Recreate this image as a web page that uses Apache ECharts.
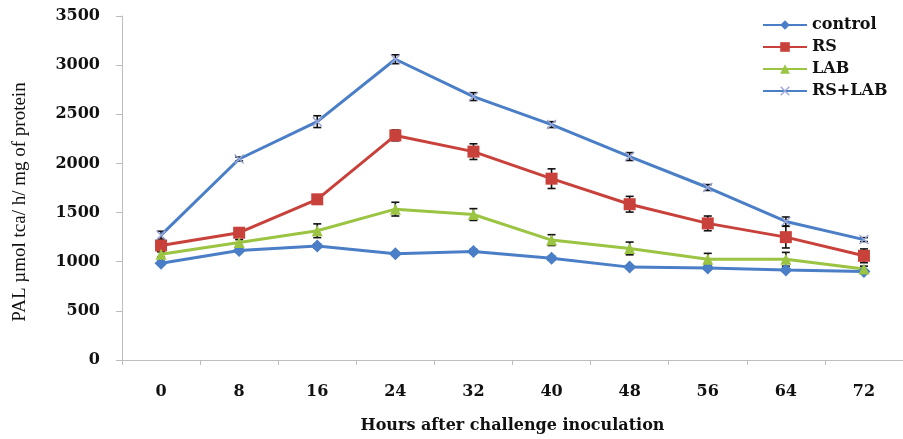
<!DOCTYPE html>
<html>
<head>
<meta charset="utf-8">
<script src="https://cdn.jsdelivr.net/npm/echarts@6/dist/echarts.min.js"></script>
<style>
  html, body { margin: 0; padding: 0; background: #fff; }
  #chart { width: 903px; height: 439px; }
</style>
</head>
<body>
<div id="chart"></div>
<script>
// hours after challenge inoculation
const hours = ['0', '8', '16', '24', '32', '40', '48', '56', '64', '72'];
const yTicks = [0, 500, 1000, 1500, 2000, 2500, 3000, 3500];

// PAL activity
const control = [985, 1115, 1160, 1080, 1105, 1035, 945, 935, 915, 900];
const rs = [1165, 1295, 1635, 2285, 2120, 1845, 1585, 1390, 1250, 1060];
const lab = [1075, 1195, 1315, 1535, 1480, 1220, 1135, 1025, 1025, 925];
const rsLab = [1270, 2045, 2425, 3060, 2680, 2395, 2070, 1755, 1410, 1225];

// error bar half-widths
const controlErr = [20, 20, 20, 15, 20, 20, 15, 15, 15, 15];
const rsErr = [40, 40, 45, 55, 80, 100, 80, 75, 110, 70];
const labErr = [25, 30, 70, 70, 60, 55, 65, 60, 70, 30];
const rsLabErr = [40, 20, 60, 45, 40, 30, 40, 30, 45, 20];

const font = 'DejaVu Serif';
const blue = '#4a7ec6';
const red = '#c9413b';
const green = '#9bc443';
const crossPath = 'path://M0,1L1,0L5,4L9,0L10,1L6,5L10,9L9,10L5,6L1,10L0,9L4,5Z';

function lineSeries(name, data, color, symbol, size, symColor) {
  return {
    name: name,
    type: 'line',
    data: data,
    symbol: symbol,
    symbolSize: size,
    lineStyle: { color: color, width: 3 },
    itemStyle: { color: symColor || color },
    z: 3
  };
}

function errorSeries(vals, errs) {
  return {
    type: 'custom',
    z: 2,
    silent: true,
    data: vals.map((v, i) => [i, v - errs[i], v + errs[i]]),
    renderItem: function (params, api) {
      const lo = api.coord([api.value(0), api.value(1)]);
      const hi = api.coord([api.value(0), api.value(2)]);
      const w = 4;
      const style = { stroke: '#111', lineWidth: 1.6 };
      return {
        type: 'group',
        children: [
          { type: 'line', shape: { x1: lo[0], y1: lo[1], x2: hi[0], y2: hi[1] }, style: style },
          { type: 'line', shape: { x1: lo[0] - w, y1: lo[1], x2: lo[0] + w, y2: lo[1] }, style: style },
          { type: 'line', shape: { x1: hi[0] - w, y1: hi[1], x2: hi[0] + w, y2: hi[1] }, style: style }
        ]
      };
    }
  };
}

const chart = echarts.init(document.getElementById('chart'));
chart.setOption({
  animation: false,
  grid: { left: 122, right: 0, top: 16, bottom: 73 },
  legend: {
    data: ['control', 'RS', 'LAB', 'RS+LAB'],
    orient: 'vertical',
    left: 757,
    top: 12,
    itemWidth: 44,
    itemHeight: 12,
    itemGap: 6,
    textStyle: { fontFamily: font, fontWeight: 'bold', fontSize: 16, color: '#111' }
  },
  xAxis: {
    type: 'category',
    data: hours,
    boundaryGap: true,
    name: 'Hours after challenge inoculation',
    nameLocation: 'middle',
    nameGap: 58,
    nameTextStyle: { fontFamily: font, fontWeight: 'bold', fontSize: 16, color: '#111' },
    axisLine: { lineStyle: { color: '#bdbdbd', width: 1 } },
    axisTick: { show: true, length: 5, lineStyle: { color: '#bdbdbd' } },
    axisLabel: { fontFamily: font, fontWeight: 'bold', fontSize: 16, color: '#111', margin: 24 },
    splitLine: { show: false }
  },
  yAxis: {
    type: 'value',
    min: yTicks[0],
    max: yTicks[yTicks.length - 1],
    interval: 500,
    name: 'PAL µmol tca/ h/ mg of protein',
    nameLocation: 'middle',
    nameGap: 92,
    nameTextStyle: { fontFamily: 'Liberation Serif', fontSize: 19, color: '#111', padding: [0, 28, 0, 0] },
    axisLine: { show: true, lineStyle: { color: '#bdbdbd', width: 1 } },
    axisTick: { show: true, length: 6, lineStyle: { color: '#bdbdbd' } },
    axisLabel: {
      fontFamily: font, fontWeight: 'bold', fontSize: 16, color: '#111', margin: 22,
      formatter: v => String(v)
    },
    splitLine: { show: false }
  },
  series: [
    lineSeries('control', control, blue, 'diamond', 13),
    lineSeries('RS', rs, red, 'rect', 12),
    lineSeries('LAB', lab, green, 'triangle', 11),
    lineSeries('RS+LAB', rsLab, blue, crossPath, 10, '#9aa6d8'),
    errorSeries(control, controlErr),
    errorSeries(rs, rsErr),
    errorSeries(lab, labErr),
    errorSeries(rsLab, rsLabErr)
  ]
});
</script>
</body>
</html>
